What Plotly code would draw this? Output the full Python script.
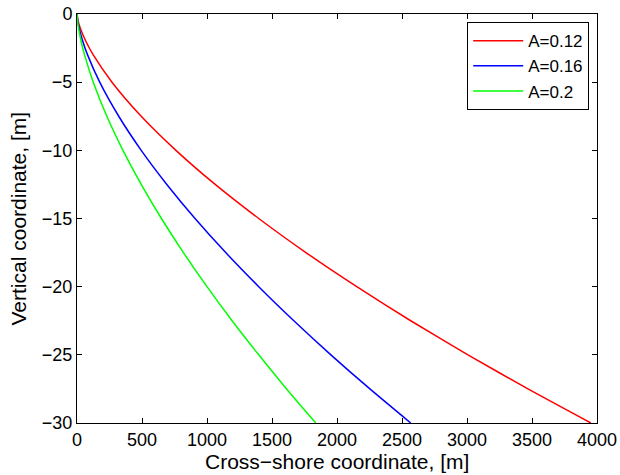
import plotly.graph_objects as go

depth = [0, -0.5, -1, -2, -3, -5, -7.5, -10, -12.5, -15, -17.5, -20, -22.5, -25, -27.5, -30]
x_a012 = [0, 8.5, 24.1, 68.0, 125, 269, 494, 761, 1063, 1398, 1761, 2152, 2567, 3007, 3469, 3953]
x_a016 = [0, 5.5, 15.6, 44.2, 81.2, 174.7, 321, 494, 691, 908, 1144, 1398, 1668, 1953, 2253, 2567]
x_a020 = [0, 4.0, 11.2, 31.6, 58.1, 125, 229.6, 353.6, 494, 649.5, 818.5, 1000, 1193, 1398, 1612, 1837]
names = ["A=0.12", "A=0.16", "A=0.2"]
colors = ["#ff0000", "#0000ff", "#00ff00"]
x_ticks = [0, 500, 1000, 1500, 2000, 2500, 3000, 3500, 4000]
y_ticks = [0, -5, -10, -15, -20, -25, -30]

fig = go.Figure()
for xs, nm, c in zip([x_a012, x_a016, x_a020], names, colors):
    fig.add_trace(go.Scatter(x=xs, y=depth, mode="lines", name=nm,
                             line=dict(color=c, width=1.5, shape="spline", smoothing=0.6)))

font = "Arial"
axis_common = dict(showgrid=False, zeroline=False, showline=True, linecolor="black",
                   linewidth=1, mirror="ticks", ticks="inside", ticklen=5,
                   tickcolor="black", automargin=False, ticklabeloverflow="allow",
                   tickfont=dict(size=18, color="black", family=font))
fig.update_layout(
    width=620, height=475,
    margin=dict(l=77, r=23, t=14, b=52),
    plot_bgcolor="white", paper_bgcolor="white",
    font=dict(family=font, color="black"),
    xaxis=dict(range=[0, 4000], tickvals=x_ticks, **axis_common),
    yaxis=dict(range=[-30, 0], tickvals=y_ticks, **axis_common),
    legend=dict(x=0.985, y=0.98, xanchor="right", yanchor="top",
                bordercolor="black", borderwidth=1, bgcolor="white",
                itemwidth=50,
                font=dict(size=17, family=font), tracegroupgap=0),
    showlegend=True,
    annotations=[
        dict(text="Cross\u2212shore coordinate, [m]", xref="paper", yref="paper",
             x=0.5, y=0, xanchor="center", yanchor="middle", yshift=-38,
             showarrow=False, font=dict(size=21, family=font, color="black")),
        dict(text="Vertical coordinate, [m]", xref="paper", yref="paper",
             x=0, y=0.5, xanchor="center", yanchor="middle", xshift=-59,
             textangle=-90, showarrow=False,
             font=dict(size=21, family=font, color="black")),
    ],
)
fig.write_html("out.html", config={"displayModeBar": False},
               post_script="document.body.style.margin='0';document.body.style.padding='0';")
